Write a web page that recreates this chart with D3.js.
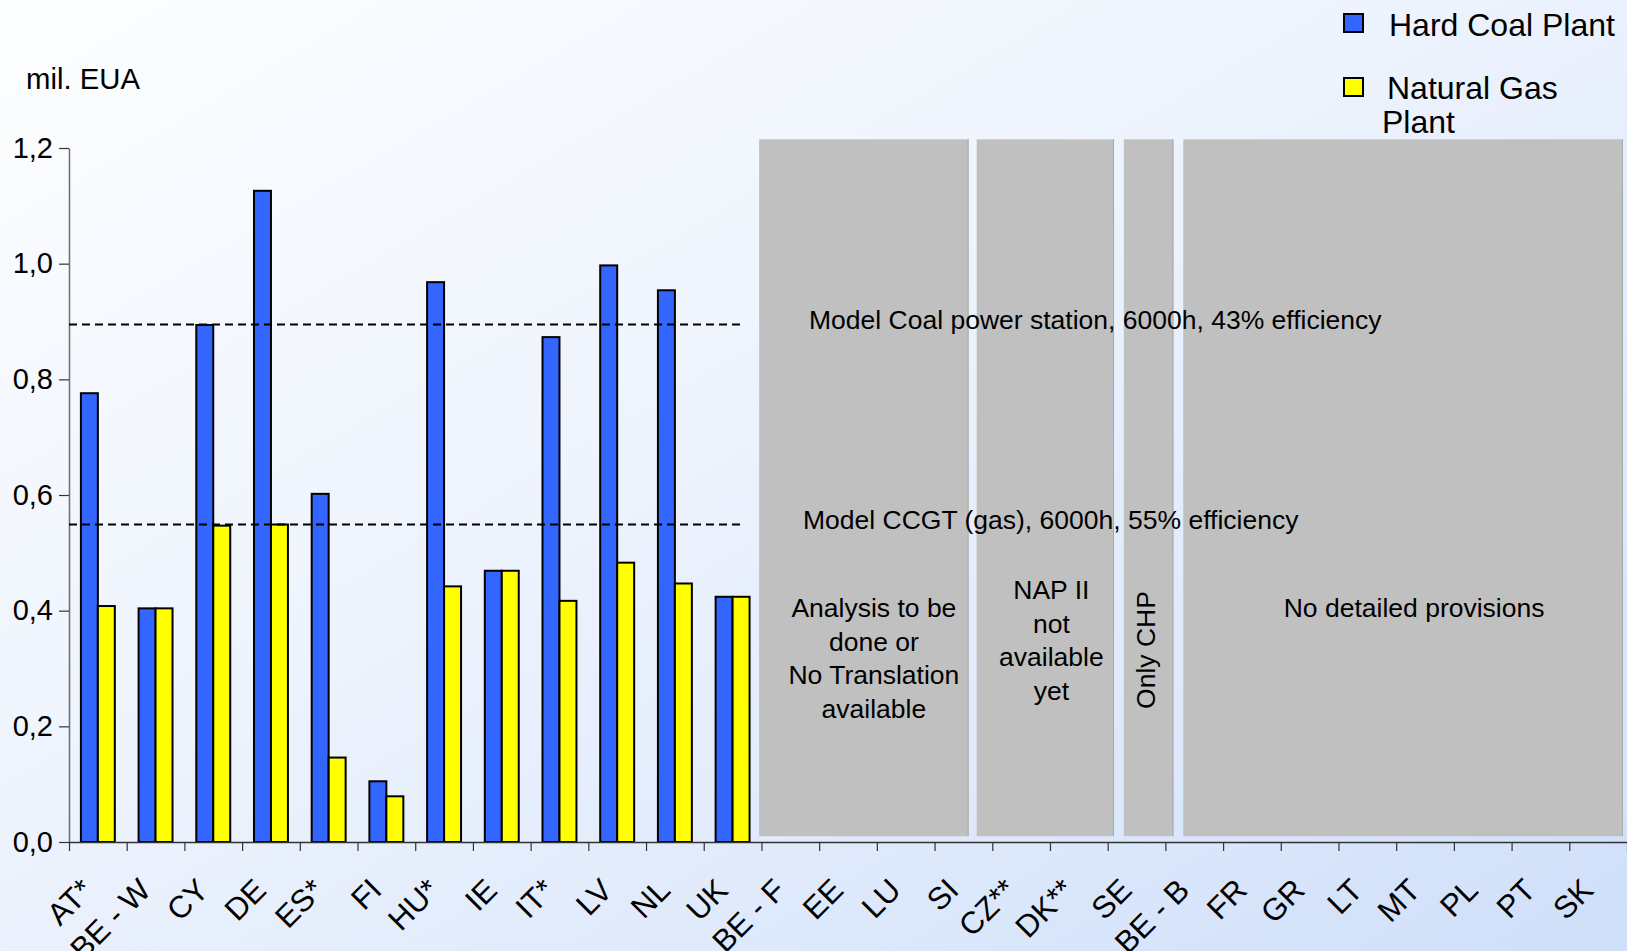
<!DOCTYPE html>
<html>
<head>
<meta charset="utf-8">
<script src="https://cdn.jsdelivr.net/npm/d3@7"></script>
<style>
  body { margin: 0; overflow: hidden; }
  text { font-family: "Liberation Sans", Arial, sans-serif; fill: #000; }
</style>
</head>
<body>
<div id="canvas"></div>
<script>
// chart data
const categories = ["AT*", "BE - W", "CY", "DE", "ES*", "FI", "HU*", "IE", "IT*", "LV", "NL", "UK",
    "BE - F", "EE", "LU", "SI", "CZ**", "DK**", "SE", "BE - B", "FR", "GR", "LT", "MT", "PL", "PT", "SK"];
const seriesNames = ["Hard Coal Plant", "Natural Gas Plant"];
const hardCoal = [0.776, 0.404, 0.894, 1.126, 0.602, 0.105, 0.968, 0.469, 0.873, 0.997, 0.954, 0.424];
const naturalGas = [0.408, 0.404, 0.547, 0.549, 0.146, 0.079, 0.442, 0.469, 0.417, 0.483, 0.447, 0.424];
const yTicks = [0, 0.2, 0.4, 0.6, 0.8, 1.0, 1.2];

// model plant reference levels
const refLines = [
    {value: 0.895, label: "Model Coal power station, 6000h, 43% efficiency"},
    {value: 0.549, label: "Model CCGT (gas), 6000h, 55% efficiency"}
];

// grey blocks for countries without data (spans in category units)
const blockSpans = [[11.96, 15.59], [15.73, 18.11], [18.28, 19.14], [19.31, 26.93]];
const blockTexts = [
    ["Analysis to be", "done or", "No Translation", "available"],
    ["NAP II", "not", "available", "yet"],
    ["Only CHP"],
    ["No detailed provisions"]
];

const colours = ["#3366ff", "#ffff00"];

// define svg canvas
const width = 1627, height = 951;
const plot = {left: 69, right: 1627, top: 148, bottom: 842};

const svg = d3.select("#canvas")
    .append("svg")
    .attr("width", width)
    .attr("height", height);

const grad = svg.append("defs").append("linearGradient")
    .attr("id", "bg")
    .attr("x1", 0).attr("y1", 0).attr("x2", 1).attr("y2", 1);
grad.append("stop").attr("offset", "0%").attr("stop-color", "#fdfeff");
grad.append("stop").attr("offset", "45%").attr("stop-color", "#edf3fd");
grad.append("stop").attr("offset", "100%").attr("stop-color", "#cfdff9");

svg.append("rect")
    .attr("width", width)
    .attr("height", height)
    .attr("fill", "url(#bg)");

// scales
const x = d3.scaleBand()
    .domain(categories)
    .range([plot.left, plot.right])
    .padding(0);

const xIdx = d3.scaleLinear()
    .domain([0, categories.length])
    .range([plot.left, plot.right]);

const xInner = d3.scaleBand()
    .domain(seriesNames)
    .range([0, x.bandwidth()])
    .paddingInner(0)
    .paddingOuter(0.7);

const y = d3.scaleLinear()
    .domain([0, 1.2])
    .range([plot.bottom, plot.top]);

// grey blocks
svg.selectAll(".block")
    .data(blockSpans)
    .join("rect")
    .attr("class", "block")
    .attr("x", d => xIdx(d[0]))
    .attr("y", y(1.215))
    .attr("width", d => xIdx(d[1]) - xIdx(d[0]))
    .attr("height", y(0.01) - y(1.215))
    .attr("fill", "#c0c0c0");

svg.selectAll(".blockEdge")
    .data(blockSpans)
    .join("line")
    .attr("class", "blockEdge")
    .attr("x1", d => xIdx(d[1]) - 0.5)
    .attr("x2", d => xIdx(d[1]) - 0.5)
    .attr("y1", y(1.215))
    .attr("y2", y(0.01))
    .attr("stroke", "#a9a9a9")
    .attr("stroke-width", 1);

// bars
const rows = hardCoal.map((v, i) => ({cat: categories[i], values: [v, naturalGas[i]]}));

const barGroups = svg.selectAll(".barGroup")
    .data(rows)
    .join("g")
    .attr("class", "barGroup")
    .attr("transform", d => "translate(" + x(d.cat) + ",0)");

barGroups.selectAll("rect")
    .data(d => d.values.map((v, j) => ({name: seriesNames[j], value: v, j: j})))
    .join("rect")
    .attr("x", d => xInner(d.name))
    .attr("y", d => y(d.value))
    .attr("width", xInner.bandwidth())
    .attr("height", d => y(0) - y(d.value))
    .attr("fill", d => colours[d.j])
    .attr("stroke", "#000")
    .attr("stroke-width", 2);

// y axis
const yAxis = svg.append("g")
    .attr("transform", "translate(" + plot.left + ",0)")
    .call(d3.axisLeft(y)
        .tickValues(yTicks)
        .tickSize(10)
        .tickSizeOuter(0)
        .tickPadding(6)
        .tickFormat(d => d3.format(".1f")(d).replace(".", ",")));
yAxis.select(".domain").attr("stroke", "#6e6e6e").attr("stroke-width", 1.5);
yAxis.selectAll(".tick line").attr("stroke", "#333").attr("stroke-width", 1.2);
yAxis.selectAll(".tick text")
    .style("font-size", "29px")
    .style("font-family", "Liberation Sans, Arial, sans-serif")
    .attr("fill", "#000");

// x axis with ticks between categories
const xAxis = svg.append("g")
    .attr("transform", "translate(0," + plot.bottom + ")")
    .call(d3.axisBottom(xIdx)
        .tickValues(d3.range(0, categories.length + 1))
        .tickSize(9)
        .tickSizeOuter(0)
        .tickFormat(""));
xAxis.select(".domain").attr("stroke", "#333").attr("stroke-width", 1.5);
xAxis.selectAll(".tick line").attr("stroke", "#333").attr("stroke-width", 1.2);

svg.selectAll(".catLabel")
    .data(categories)
    .join("text")
    .attr("class", "catLabel")
    .attr("text-anchor", "end")
    .attr("transform", d => "translate(" + (x(d) + x.bandwidth() / 2 - 3) + "," + (plot.bottom + 50) + ") rotate(-45)")
    .style("font-size", "31px")
    .text(d => d);

// dashed reference lines
svg.selectAll(".refLine")
    .data(refLines)
    .join("line")
    .attr("class", "refLine")
    .attr("x1", plot.left)
    .attr("x2", xIdx(11.67))
    .attr("y1", d => y(d.value))
    .attr("y2", d => y(d.value))
    .attr("stroke", "#000")
    .attr("stroke-width", 2)
    .style("stroke-dasharray", ("8, 5"));

svg.selectAll(".refLabel")
    .data(refLines)
    .join("text")
    .attr("class", "refLabel")
    .attr("x", (d, i) => i === 0 ? 809 : 803)
    .attr("y", d => y(d.value) + 5)
    .style("font-size", "26.5px")
    .text(d => d.label);

// block texts (shift from block centre)
const textShift = [10, 6, -12, 11];
blockTexts.forEach((lines, i) => {
    const span = blockSpans[i];
    const cx = (xIdx(span[0]) + xIdx(span[1])) / 2 + textShift[i];
    if (lines[0] === "Only CHP") {
        svg.append("text")
            .attr("text-anchor", "middle")
            .attr("transform", "translate(" + (cx + 18) + "," + 650 + ") rotate(-90)")
            .style("font-size", "26.5px")
            .text(lines[0]);
        return;
    }
    const firstY = i === 1 ? 599 : 617;
    svg.append("text")
        .attr("text-anchor", "middle")
        .style("font-size", "26.5px")
        .selectAll("tspan")
        .data(lines)
        .join("tspan")
        .attr("x", cx)
        .attr("y", (d, k) => firstY + k * 33.7)
        .text(d => d);
});

// axis unit
svg.append("text")
    .attr("x", 26)
    .attr("y", 89)
    .style("font-size", "29.3px")
    .text("mil. EUA");

// legend
const legend = svg.append("g");
legend.selectAll("rect")
    .data(seriesNames)
    .join("rect")
    .attr("x", 1344)
    .attr("y", (d, i) => 14 + i * 64)
    .attr("width", 19)
    .attr("height", 18)
    .attr("fill", (d, i) => colours[i])
    .attr("stroke", "#000")
    .attr("stroke-width", 2);

legend.append("text")
    .attr("x", 1389)
    .attr("y", 36)
    .style("font-size", "32px")
    .text("Hard Coal Plant");

legend.append("text")
    .style("font-size", "32px")
    .selectAll("tspan")
    .data(["Natural Gas", "Plant"])
    .join("tspan")
    .attr("x", (d, i) => i === 0 ? 1387 : 1382)
    .attr("y", (d, i) => 99 + i * 34)
    .text(d => d);
</script>
</body>
</html>
